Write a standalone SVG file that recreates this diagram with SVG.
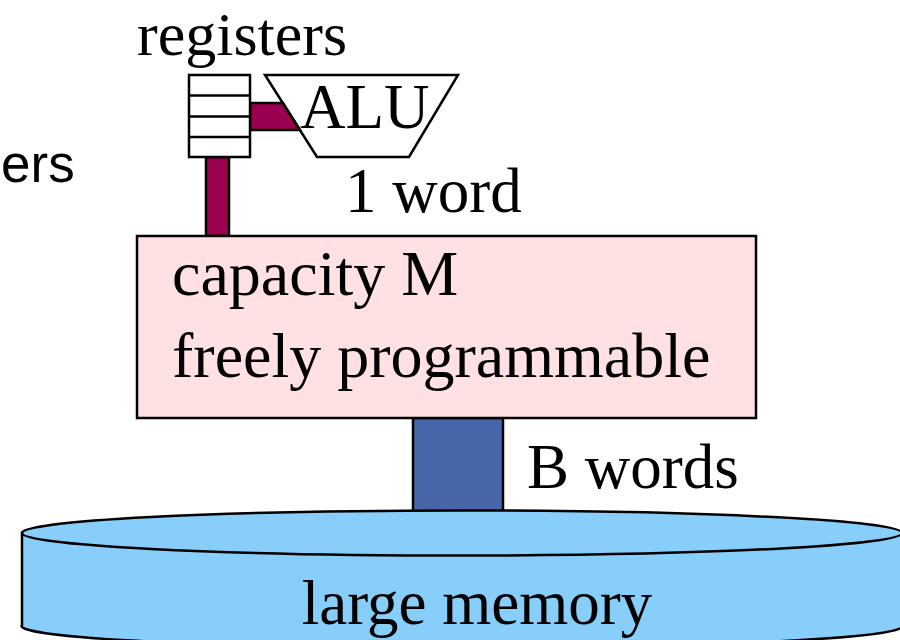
<svg xmlns="http://www.w3.org/2000/svg" width="900" height="640" viewBox="0 0 900 640">
<style>
.t{font-family:"Liberation Serif","Times New Roman",serif;font-size:63px;fill:#000}
.b{font-size:64px}
.s{font-family:"Liberation Sans",Arial,sans-serif;font-size:53px;fill:#000}
.ln{stroke:#000;stroke-width:2.5;fill:none}
.mag{fill:#99004F;stroke:#000;stroke-width:2.5}
.bus{fill:#4766AA;stroke:#000;stroke-width:2.5}
</style>
<rect width="900" height="640" fill="#fff"/>
<text class="s" x="1" y="182">ers</text>
<g id="connectors">
<polygon class="mag" points="250,103 283,103 300,130 250,130"/>
<rect class="mag" x="206" y="157" width="23" height="79"/>
<rect class="bus" x="413" y="418" width="90" height="94"/>
</g>
<g id="memory">
<path d="M22,533 L22,625 A440,22 0 0 0 902,627 L902,533 Z" fill="#87CEFA" stroke="#000" stroke-width="2.5"/>
<ellipse cx="462" cy="533" rx="440" ry="22.5" fill="#87CEFA" stroke="#000" stroke-width="2.5"/>
<text class="t" x="477" y="624" text-anchor="middle">large memory</text>
</g>
<g id="registers">
<rect x="189" y="75" width="61" height="82" fill="#fff" stroke="#000" stroke-width="2.5"/>
<line class="ln" x1="189" y1="95.5" x2="250" y2="95.5"/>
<line class="ln" x1="189" y1="116.5" x2="250" y2="116.5"/>
<line class="ln" x1="189" y1="137" x2="250" y2="137"/>
<text class="t" x="137" y="55" style="font-size:62px">registers</text>
</g>
<g id="alu">
<polygon points="265,75 458,75 409,157 317,157" fill="none" stroke="#000" stroke-width="2.5"/>
<text class="t" x="300" y="128">ALU</text>
</g>
<text class="t" x="345" y="212">1 word</text>
<g id="cache">
<rect x="137" y="236" width="619" height="182" fill="#FFE0E3" stroke="#000" stroke-width="2.5"/>
<text class="t b" x="172" y="295">capacity M</text>
<text class="t b" x="172" y="377">freely programmable</text>
</g>
<text class="t" x="527" y="488">B words</text>
</svg>
